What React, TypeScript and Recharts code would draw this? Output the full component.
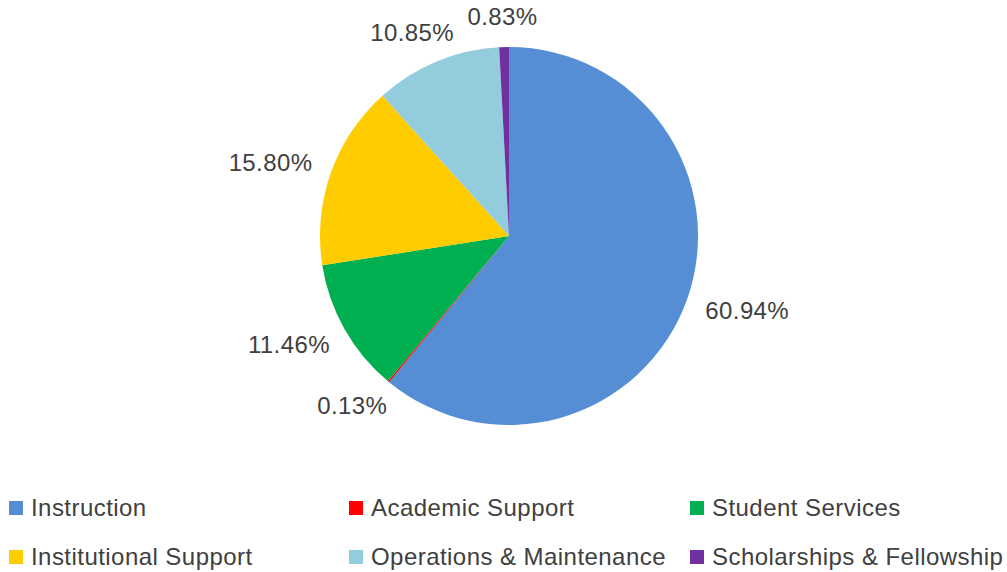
import React from 'react';
import { PieChart, Pie, Cell, Legend } from 'recharts';

const categories = [
  'Instruction',
  'Academic Support',
  'Student Services',
  'Institutional Support',
  'Operations & Maintenance',
  'Scholarships & Fellowship',
];
const shares = [60.94, 0.13, 11.46, 15.8, 10.85, 0.83];
const shareLabels = ['60.94%', '0.13%', '11.46%', '15.80%', '10.85%', '0.83%'];
const colors = ['#558ED5', '#FF0000', '#00B050', '#FFCC00', '#93CDDD', '#7030A0'];

const data = categories.map((name, i) => ({ name, value: shares[i], label: shareLabels[i] }));

const FONT = '"Liberation Sans", Arial, sans-serif';
const TEXT = '#404040';
const RAD = Math.PI / 180;

const renderLabel = (props: any) => {
  const { cx, cy, midAngle, outerRadius, index } = props;
  const text = shareLabels[index];
  const ux = Math.cos(-midAngle * RAD);
  const uy = Math.sin(-midAngle * RAD);
  const gap = 22;
  const w = text.length * 14;
  const h = 18;
  const px = cx + (outerRadius + gap) * ux;
  const py = cy + (outerRadius + gap) * uy;
  const x = px + (ux * w) / 2;
  const y = py + (uy * h) / 2;
  return (
    <text
      key={`lbl-${index}`}
      x={x}
      y={y}
      textAnchor="middle"
      dominantBaseline="central"
      fill={TEXT}
      fontFamily={FONT}
      fontSize={24}
      letterSpacing={0.4}
    >
      {text}
    </text>
  );
};

const colLeft = [9, 349, 690];

const renderLegend = () => {
  return (
    <div style={{ position: 'relative', width: 1007, height: 84 }}>
      {categories.map((name, i) => {
        const col = i % 3;
        const row = Math.floor(i / 3);
        return (
          <div
            key={`leg-${i}`}
            style={{
              position: 'absolute',
              left: colLeft[col],
              top: row * 49,
              height: 30,
              display: 'flex',
              alignItems: 'center',
              whiteSpace: 'nowrap',
            }}
          >
            <span
              style={{
                display: 'inline-block',
                width: 14,
                height: 14,
                background: colors[i],
                marginRight: 8,
              }}
            />
            <span
              style={{
                fontFamily: FONT,
                fontSize: 24,
                color: TEXT,
                letterSpacing: 0.45,
              }}
            >
              {name}
            </span>
          </div>
        );
      })}
    </div>
  );
};

export default function App() {
  return (
    <div style={{ position: 'absolute', left: 0, top: 0, background: '#fff' }}>
      <PieChart width={1007} height={572} margin={{ top: 0, right: 0, bottom: 0, left: 0 }}>
        <Pie
          data={data}
          dataKey="value"
          nameKey="name"
          cx={509}
          cy={236}
          outerRadius={189}
          startAngle={90}
          endAngle={-270}
          stroke="none"
          label={renderLabel}
          labelLine={false}
          isAnimationActive={false}
        >
          {data.map((d, i) => (
            <Cell key={`c-${i}`} fill={colors[i]} />
          ))}
        </Pie>
        <Legend
          content={renderLegend}
          wrapperStyle={{ position: 'absolute', left: 0, top: 493, width: 1007, height: 84 }}
        />
      </PieChart>
    </div>
  );
}
